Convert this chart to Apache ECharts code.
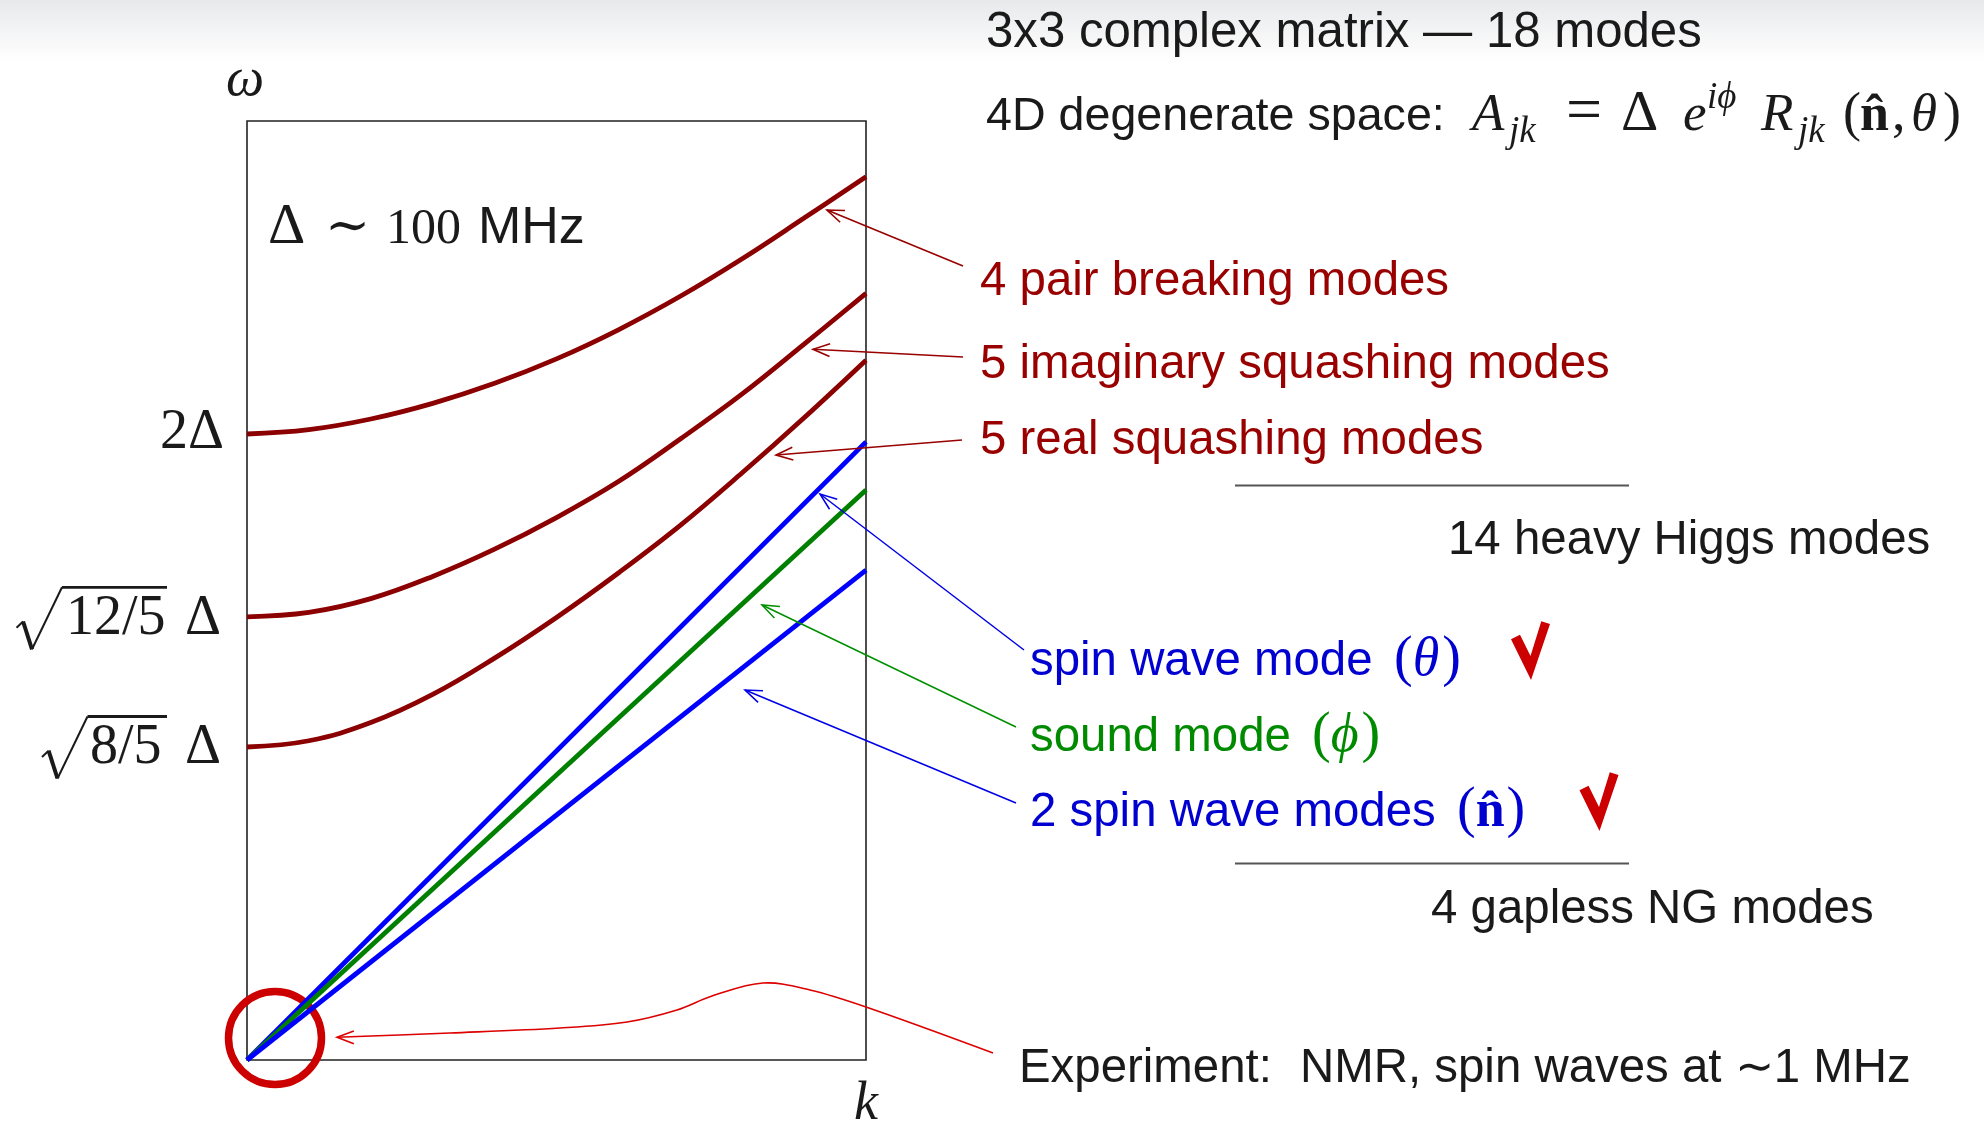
<!DOCTYPE html>
<html>
<head>
<meta charset="utf-8">
<script src="https://cdn.jsdelivr.net/npm/echarts@6/dist/echarts.min.js"></script>
<style>
  html, body { margin: 0; padding: 0; background: #fff; }
  #chart { width: 1984px; height: 1124px; }
</style>
</head>
<body>
<div id="chart"></div>
<script>
// ---- dispersion branches: omega(k), schematic units, k across the plotted range ----
const kSamples      = [0, 0.1, 0.2, 0.3, 0.4, 0.5, 0.6, 0.7, 0.8, 0.9, 1.0];
const pairBreaking  = [2.000, 2.014, 2.048, 2.098, 2.162, 2.240, 2.333, 2.440, 2.560, 2.690, 2.822];
const imagSquashing = [1.416, 1.430, 1.474, 1.545, 1.632, 1.733, 1.848, 1.984, 2.128, 2.287, 2.449];
const realSquashing = [1.000, 1.020, 1.078, 1.168, 1.284, 1.414, 1.556, 1.708, 1.876, 2.052, 2.236];

// gapless (linear) branches
const kLine         = [0, 1];
const spinWaveTheta = [0, 1.975];
const soundPhi      = [0, 1.821];
const spinWaveN     = [0, 1.565];

const DARK_RED = '#8b0000', RED_TXT = '#990000';
const BLUE = '#0000ff', BLUE_TXT = '#0000d0';
const GREEN = '#008000', GREEN_TXT = '#008a00';
const INK = '#1a1a1a', MARK_RED = '#cc0000';

const SANS  = '"Liberation Sans", Arial, sans-serif';
const SERIF = '"Liberation Serif", "DejaVu Serif", serif';

function pairs(xs, ys) { return xs.map((x, i) => [x, ys[i]]); }

function branch(name, xs, ys, color, smooth) {
  return {
    name, type: 'line', data: pairs(xs, ys), smooth: smooth ? 0.4 : false,
    showSymbol: false, symbol: 'none', silent: true, z: 3,
    lineStyle: { color, width: 4.8 }
  };
}

const chart = echarts.init(document.getElementById('chart'), null, { renderer: 'canvas' });

chart.setOption({
  animation: false,
  backgroundColor: new echarts.graphic.LinearGradient(0, 0, 0, 1, [
    { offset: 0, color: '#e8e9eb' }, { offset: 0.055, color: '#ffffff' }, { offset: 1, color: '#ffffff' }
  ]),
  grid: { left: 247, top: 121, width: 619, height: 939, show: true, borderColor: '#222', borderWidth: 1.6, backgroundColor: 'transparent' },
  xAxis: { type: 'value', min: 0, max: 1, axisLine: { show: false }, axisTick: { show: false }, axisLabel: { show: false }, splitLine: { show: false } },
  yAxis: { type: 'value', min: 0, max: 3, axisLine: { show: false }, axisTick: { show: false }, axisLabel: { show: false }, splitLine: { show: false } },
  series: [
    branch('pair breaking', kSamples, pairBreaking, DARK_RED, true),
    branch('imaginary squashing', kSamples, imagSquashing, DARK_RED, true),
    branch('real squashing', kSamples, realSquashing, DARK_RED, true),
    branch('spin wave theta', kLine, spinWaveTheta, BLUE, false),
    branch('sound phi', kLine, soundPhi, GREEN, false),
    branch('spin wave n', kLine, spinWaveN, BLUE, false)
  ]
});

// ---- text helpers ----
const mctx = document.createElement('canvas').getContext('2d');
function fontOf(size, family, style, weight) { return `${style || 'normal'} ${weight || 'normal'} ${size}px ${family}`; }
function measure(text, font) { mctx.font = font; return mctx.measureText(text).width; }
function midShift(font) {
  mctx.font = font; mctx.textBaseline = 'middle';
  const d = mctx.measureText('H').actualBoundingBoxDescent;
  mctx.textBaseline = 'alphabetic';
  return d;
}
function fitSize(text, family, width, style, weight) {
  return width / measure(text, fontOf(100, family, style, weight)) * 100;
}
function txt(text, x, baseline, font, fill, align) {
  const a = align || 'left';
  return {
    type: 'text', x, y: baseline - midShift(font), z: 10, silent: true,
    style: { text, font, fill, textAlign: a, align: a, textVerticalAlign: 'middle', verticalAlign: 'middle' }
  };
}
// lay pieces one after another starting at x
function flow(pieces, x, baseline, fill) {
  const out = [];
  let cx = x;
  pieces.forEach(p => {
    out.push(txt(p.t, cx + (p.dx || 0), baseline + (p.dy || 0), p.f, fill));
    cx += measure(p.t, p.f) + (p.dx || 0) + (p.gap || 0);
  });
  return out;
}
function arrow(x1, y1, x2, y2, color, w) {
  const a = Math.atan2(y1 - y2, x1 - x2);
  const L = 18, h = 0.36;
  const p1 = [x2 + L * Math.cos(a + h), y2 + L * Math.sin(a + h)];
  const p2 = [x2 + L * Math.cos(a - h), y2 + L * Math.sin(a - h)];
  return [
    { type: 'line', z: 5, silent: true, shape: { x1, y1, x2, y2 }, style: { stroke: color, lineWidth: w } },
    { type: 'polyline', z: 5, silent: true, shape: { points: [p1, [x2, y2], p2] }, style: { stroke: color, lineWidth: w, fill: null } }
  ];
}
function radical(x0, b, xEnd) {
  return [
    { type: 'polyline', z: 10, silent: true, shape: { points: [[x0, b - 6], [x0 + 6.6, b - 12.3]] }, style: { stroke: INK, lineWidth: 2, fill: null } },
    { type: 'line', z: 10, silent: true, shape: { x1: x0 + 6.6, y1: b - 12.3, x2: x0 + 15.5, y2: b + 15.5 }, style: { stroke: INK, lineWidth: 4 } },
    { type: 'line', z: 10, silent: true, shape: { x1: x0 + 15.5, y1: b + 15.5, x2: x0 + 45.5, y2: b - 46.5 }, style: { stroke: INK, lineWidth: 2 } },
    { type: 'line', z: 10, silent: true, shape: { x1: x0 + 45.5, y1: b - 46.5, x2: xEnd, y2: b - 46.5 }, style: { stroke: INK, lineWidth: 2.8 } }
  ];
}
function check(dx, dy) {
  const pts = [[1511, 639.3], [1520, 634.7], [1530.5, 656], [1541.3, 621.3], [1550, 624], [1531, 680]];
  return { type: 'polygon', z: 10, silent: true, shape: { points: pts.map(p => [p[0] + dx, p[1] + dy]) }, style: { fill: MARK_RED } };
}

const g = [];

// ---- headings ----
const hSize = fitSize('3x3 complex matrix — 18 modes', SANS, 716);
g.push(txt('3x3 complex matrix — 18 modes', 986, 46.7, fontOf(hSize, SANS), INK));
const h2Size = fitSize('4D degenerate space:', SANS, 459);
g.push(txt('4D degenerate space:', 986, 130, fontOf(h2Size, SANS), INK));

const mI = fontOf(53, SERIF, 'italic'), mR = fontOf(54, SERIF), mS = fontOf(37, SERIF, 'italic');
const mB = fontOf(52, SERIF, 'normal', 'bold');
g.push(txt('A', 1472, 130, mI, INK));
g.push(txt('jk', 1509, 142, mS, INK));
g.push(txt('=', 1566, 130, fontOf(64, SERIF), INK));
g.push(txt('Δ', 1621, 130, fontOf(58, SERIF), INK));
g.push(txt('e', 1683, 130, mI, INK));
g.push(txt('iϕ', 1707, 108, mS, INK));
g.push(txt('R', 1761, 130, mI, INK));
g.push(txt('jk', 1798, 142, mS, INK));
g.push(txt('(', 1843, 130, mR, INK));
g.push(txt('n̂', 1860, 130, mB, INK));
g.push(txt(',', 1892, 130, mR, INK));
g.push(txt('θ', 1911, 130, mI, INK));
g.push(txt(')', 1943, 130, mR, INK));

// ---- massive branch labels ----
const lblSize = fitSize('5 imaginary squashing modes', SANS, 630);
const lblF = fontOf(lblSize, SANS);
g.push(txt('4 pair breaking modes', 980, 295, lblF, RED_TXT));
g.push(txt('5 imaginary squashing modes', 980, 378.3, lblF, RED_TXT));
g.push(txt('5 real squashing modes', 980, 454, lblF, RED_TXT));
g.push({ type: 'line', z: 5, silent: true, shape: { x1: 1235, y1: 485.5, x2: 1629, y2: 485.5 }, style: { stroke: '#555', lineWidth: 2 } });
g.push(txt('14 heavy Higgs modes', 1448, 553.7, lblF, INK));

// ---- gapless branch labels ----
const pR = fontOf(56, SERIF), pI = fontOf(54, SERIF, 'italic'), pB = fontOf(52, SERIF, 'normal', 'bold');
g.push(txt('spin wave mode', 1030, 675, lblF, BLUE_TXT));
g.push(...flow([{ t: '(', f: pR }, { t: 'θ', f: pI, gap: 3 }, { t: ')', f: pR }], 1394, 675, BLUE_TXT));
g.push(txt('sound mode', 1030, 750.7, lblF, GREEN_TXT));
g.push(...flow([{ t: '(', f: pR }, { t: 'ϕ', f: pI, gap: 3 }, { t: ')', f: pR }], 1312, 750.7, GREEN_TXT));
g.push(txt('2 spin wave modes', 1030, 826.3, lblF, BLUE_TXT));
g.push(...flow([{ t: '(', f: pR }, { t: 'n̂', f: pB, gap: 2 }, { t: ')', f: pR }], 1457, 826.3, BLUE_TXT));
g.push(check(0, 0));
g.push(check(68.5, 151));
g.push({ type: 'line', z: 5, silent: true, shape: { x1: 1235, y1: 863.5, x2: 1629, y2: 863.5 }, style: { stroke: '#555', lineWidth: 2 } });
g.push(txt('4 gapless NG modes', 1431, 923, lblF, INK));

// ---- experiment note ----
g.push(txt('Experiment:', 1019, 1081.8, lblF, INK));
g.push(txt('NMR, spin waves at ∼1 MHz', 1300, 1081.8, lblF, INK));

// ---- inside the frame ----
g.push(txt('Δ', 268, 243.3, fontOf(58, SERIF), INK));
g.push(txt('∼', 325, 243.3, fontOf(54, SERIF), INK));
g.push(txt('100', 386, 243.3, fontOf(50, SERIF), INK));
g.push(txt('MHz', 478, 243.3, fontOf(52, SANS), INK));

// ---- axis titles ----
g.push(txt('ω', 245, 95, fontOf(54, SERIF, 'italic'), INK, 'center'));
g.push(txt('k', 866, 1119, fontOf(54, SERIF, 'italic'), INK, 'center'));

// ---- arrows from labels to branches ----
g.push(...arrow(963, 266, 827, 210, '#990000', 1.6));
g.push(...arrow(963, 357, 813, 349.3, '#990000', 1.6));
g.push(...arrow(962, 440, 776, 455, '#990000', 1.6));
g.push(...arrow(1024, 650, 820, 494, '#0000e6', 1.5));
g.push(...arrow(1016, 727, 762, 605, '#009000', 1.5));
g.push(...arrow(1016, 803, 745, 690, '#0000e6', 1.5));

const expPts = [[993, 1053], [866, 1007], [810, 990], [763, 983], [712, 996], [677, 1010], [627, 1022], [560, 1028], [450, 1033], [337, 1037.3]];
g.push({ type: 'polyline', z: 5, silent: true, shape: { points: expPts, smooth: 0.35 }, style: { stroke: '#dd0000', lineWidth: 1.6, fill: null } });
(function () {
  const [x2, y2] = expPts[expPts.length - 1];
  const a = Math.atan2(0, 1), L = 18, h = 0.36;
  g.push({ type: 'polyline', z: 5, silent: true, shape: { points: [[x2 + L * Math.cos(a + h), y2 + L * Math.sin(a + h)], [x2, y2], [x2 + L * Math.cos(a - h), y2 + L * Math.sin(a - h)]] }, style: { stroke: '#dd0000', lineWidth: 1.6, fill: null } });
})();

// red ring around the origin (below the branches)
g.push({ type: 'circle', z: 1, silent: true, shape: { cx: 275, cy: 1038, r: 46.5 }, style: { stroke: MARK_RED, lineWidth: 7.5, fill: null } });

// ---- gap labels on the omega axis, anchored to the start of each massive branch ----
const yPair = chart.convertToPixel({ gridIndex: 0 }, [0, pairBreaking[0]])[1];
const yImag = chart.convertToPixel({ gridIndex: 0 }, [0, imagSquashing[0]])[1];
const yReal = chart.convertToPixel({ gridIndex: 0 }, [0, realSquashing[0]])[1];
const gF = fontOf(56, SERIF);
g.push(txt('2Δ', 224, yPair + 14, gF, INK, 'right'));
const b1 = yImag + 17, b2 = yReal + 16;
g.push(...radical(16.5, b1, 167));
g.push(txt('12/5', 66, b1, gF, INK));
g.push(txt('Δ', 185, b1, gF, INK));
g.push(...radical(42, b2, 167));
g.push(txt('8/5', 90, b2, gF, INK));
g.push(txt('Δ', 185, b2, gF, INK));

chart.setOption({ graphic: { elements: g } });
</script>
</body>
</html>
